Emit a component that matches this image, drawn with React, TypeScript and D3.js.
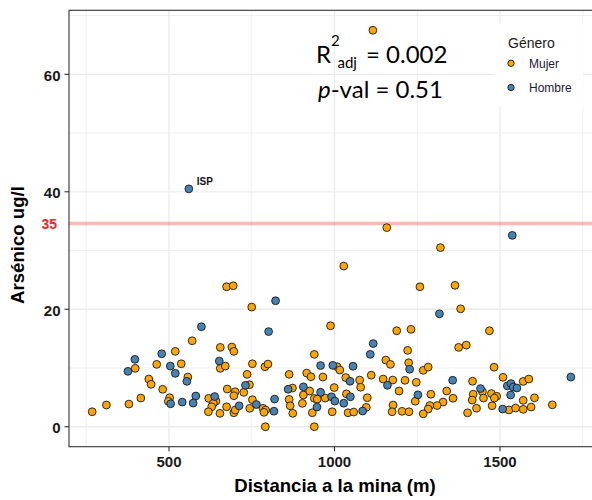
import React from "react";
import * as d3 from "d3";

// ---- Data ----
const mujerDist = [268, 311, 379, 415, 398, 439, 446, 463, 481, 519, 537, 557, 570, 502, 498, 674, 694, 750, 988, 655, 690, 696, 655, 670, 752, 790, 799, 736, 863, 939, 916, 929, 965, 743, 676, 700, 726, 696, 752, 620, 642, 634, 629, 619, 654, 674, 696, 700, 744, 784, 792, 787, 791, 863, 866, 874, 873, 906, 903, 925, 939, 948, 972, 933, 993, 939, 1116, 1158, 1320, 1028, 1258, 1364, 1381, 1188, 1231, 1375, 1398, 1221, 1155, 1169, 1224, 1268, 1283, 1008, 1016, 1111, 1034, 1076, 1079, 1147, 1176, 1213, 1247, 1195, 1244, 1291, 1339, 1358, 1328, 1310, 1288, 1283, 1268, 1177, 1174, 1204, 1225, 999, 1036, 1099, 1041, 1058, 1096, 1468, 1482, 1509, 1417, 1570, 1587, 1447, 1419, 1416, 1450, 1474, 1490, 1483, 1429, 1402, 1476, 1527, 1547, 1570, 1570, 1594, 1604, 1658];
const mujerArsenic = [2.55, 3.7, 3.86, 4.88, 9.94, 8.12, 7.22, 10.62, 6.37, 12.83, 10.72, 8.46, 14.64, 4.94, 4.32, 23.83, 24.0, 20.37, 17.19, 13.51, 13.57, 12.83, 9.94, 10.33, 10.72, 10.21, 10.67, 8.92, 8.92, 12.32, 9.14, 8.51, 8.46, 7.15, 6.42, 5.96, 5.85, 5.28, 4.6, 4.83, 4.37, 3.98, 3.4, 2.55, 2.28, 3.4, 2.38, 2.84, 3.13, 3.13, 2.84, 2.45, 0, 4.66, 3.57, 2.28, 6.59, 5.4, 3.98, 6.08, 4.83, 4.71, 4.88, 2.38, 2.55, 0, 67.5, 33.9, 30.5, 27.35, 23.83, 24.07, 20.08, 16.34, 16.58, 13.51, 13.9, 13.0, 11.35, 10.62, 10.89, 9.6, 10.16, 10.21, 9.65, 8.77, 8.37, 7.95, 6.72, 8.12, 7.95, 7.9, 7.56, 6.08, 4.34, 5.53, 6.08, 4.85, 4.2, 3.61, 3.61, 3.01, 2.2, 3.69, 2.55, 2.62, 2.55, 6.67, 5.6, 4.94, 2.38, 2.5, 3.3, 16.34, 10.13, 8.42, 7.74, 7.71, 8.12, 5.96, 5.53, 4.54, 4.88, 5.65, 5.19, 4.88, 3.15, 2.37, 3.57, 2.86, 3.18, 2.96, 4.49, 3.35, 4.92, 3.73];

const hombreDist = [376, 397, 478, 504, 519, 554, 598, 505, 540, 581, 573, 560, 822, 801, 652, 731, 638, 712, 764, 817, 819, 860, 906, 958, 958, 995, 947, 991, 1001, 1317, 1537, 1117, 1108, 1056, 1227, 1047, 1160, 1252, 1357, 1048, 1028, 1085, 1441, 1522, 1533, 1540, 1551, 1532, 1714, 1508];
const hombreArsenic = [9.43, 11.47, 12.42, 10.33, 9.09, 7.73, 17.02, 3.91, 4.2, 5.23, 4.03, 40.5, 21.45, 16.2, 11.18, 7.05, 5.14, 3.56, 3.78, 2.64, 4.71, 6.38, 6.79, 5.87, 10.42, 10.45, 3.35, 5.1, 4.37, 19.23, 32.58, 14.16, 12.32, 10.3, 9.79, 7.74, 7.06, 5.43, 7.91, 5.1, 4.0, 2.67, 6.5, 6.96, 7.35, 6.76, 6.59, 5.4, 8.46, 3.01];

const xMajor = [500, 1000, 1500];
const xMinor = [250, 750, 1250, 1750];
const yMajor = [0, 20, 40, 60];
const yMinor = [10, 30, 50, 70];
const limitValue = 34.6;
const limitLabel = "35";
const ispIndex = 11; // hombre point labelled "ISP"

const genders = ["Mujer", "Hombre"];
const genderColors = ["#FFA500", "#4682B4"];

export default function App() {
  const W = 592, H = 500;
  const left = 69, right = 600, top = 10.3, bottom = 446.7;
  const x = d3.scaleLinear().domain([198, 1802]).range([left, right]);
  const y = d3.scaleLinear().domain([-3.4, 70.9]).range([bottom, top]);

  const grid = "#ebebeb";
  const mujer = mujerDist.map((d, i) => [d, mujerArsenic[i]]);
  const hombre = hombreDist.map((d, i) => [d, hombreArsenic[i]]);
  const tickFont = "'Liberation Sans', Arial, sans-serif";

  return (
    <div style={{ position: "fixed", left: 0, top: 0, width: W, height: H, background: "#fff" }}>
      <svg width={W} height={H} style={{ display: "block" }}>
        <rect x={0} y={0} width={W} height={H} fill="#fff" />
        {/* grid */}
        {xMinor.map((v) => (
          <line key={"xm" + v} x1={x(v)} x2={x(v)} y1={top} y2={bottom} stroke={grid} strokeWidth={0.8} />
        ))}
        {yMinor.map((v) => (
          <line key={"ym" + v} x1={left} x2={right} y1={y(v)} y2={y(v)} stroke={grid} strokeWidth={0.8} />
        ))}
        {xMajor.map((v) => (
          <line key={"xM" + v} x1={x(v)} x2={x(v)} y1={top} y2={bottom} stroke={grid} strokeWidth={1.3} />
        ))}
        {yMajor.map((v) => (
          <line key={"yM" + v} x1={left} x2={right} y1={y(v)} y2={y(v)} stroke={grid} strokeWidth={1.3} />
        ))}
        {/* limit line */}
        <line x1={left} x2={right} y1={y(limitValue)} y2={y(limitValue)} stroke="#ff0000" strokeOpacity={0.28} strokeWidth={3.5} />
        {/* points */}
        {mujer.map((p, i) => (
          <circle key={"m" + i} cx={x(p[0])} cy={y(p[1])} r={3.9} fill={genderColors[0]} stroke="#1a1a1a" strokeWidth={0.9} />
        ))}
        {hombre.map((p, i) => (
          <circle key={"h" + i} cx={x(p[0])} cy={y(p[1])} r={3.9} fill={genderColors[1]} stroke="#1a1a1a" strokeWidth={0.9} />
        ))}
        <text x={x(hombreDist[ispIndex]) + 8} y={y(hombreArsenic[ispIndex]) - 4} fontFamily={tickFont} fontWeight="bold" fontSize={10} fill="#111">ISP</text>
        {/* panel border */}
        <rect x={left} y={top} width={right - left} height={bottom - top} fill="none" stroke="#333" strokeWidth={1.1} />
        {/* y axis ticks */}
        {yMajor.map((v) => (
          <g key={"yt" + v}>
            <line x1={left - 4.5} x2={left} y1={y(v)} y2={y(v)} stroke="#333" strokeWidth={1.1} />
            <text x={left - 8.5} y={y(v) + 1} dy="0.36em" textAnchor="end" fontFamily={tickFont} fontWeight="bold" fontSize={15} fill="#1a1a1a">{v}</text>
          </g>
        ))}
        <text x={57} y={y(limitValue)} dy="0.36em" textAnchor="end" fontFamily={tickFont} fontWeight="bold" fontSize={14} fill="#f02828">{limitLabel}</text>
        {/* x axis ticks */}
        {xMajor.map((v) => (
          <g key={"xt" + v}>
            <line x1={x(v)} x2={x(v)} y1={bottom} y2={bottom + 4.5} stroke="#333" strokeWidth={1.1} />
            <text x={x(v)} y={466.5} textAnchor="middle" fontFamily={tickFont} fontWeight="bold" fontSize={15} fill="#1a1a1a">{v}</text>
          </g>
        ))}
        {/* axis titles */}
        <text x={335} y={492} textAnchor="middle" fontFamily={tickFont} fontWeight="bold" fontSize={18.6} fill="#000">Distancia a la mina (m)</text>
        <text transform={`translate(23.5, 245) rotate(-90)`} textAnchor="middle" fontFamily={tickFont} fontWeight="bold" fontSize={18.6} fill="#000">Arsénico ug/l</text>
        {/* stats annotation */}
        <g fontFamily="Lato, 'Open Sans', sans-serif" fill="#000">
          <text x={316} y={63} fontSize={24}>R</text>
          <text x={331} y={46} fontSize={15}>2</text>
          <text x={337.5} y={68} fontSize={15}>adj</text>
          <text x={366} y={63} fontSize={24}>= 0.002</text>
          <text x={318} y={98} fontSize={24}><tspan fontStyle="italic">p</tspan>-val = 0.51</text>
        </g>
        {/* legend */}
        <rect x={495} y={23} width={88} height={84} fill="#fff" />
        <text x={508} y={47.5} fontFamily={tickFont} fontSize={14} fill="#1a1a1a">Género</text>
        {genders.map((g, i) => (
          <g key={g}>
            <circle cx={511} cy={63.3 + i * 24.2} r={3.2} fill={genderColors[i]} stroke="#1a1a1a" strokeWidth={0.9} />
            <text x={529} y={63.3 + i * 24.2} dy="0.36em" fontFamily={tickFont} fontSize={12} fill="#1a1a33">{g}</text>
          </g>
        ))}
      </svg>
    </div>
  );
}
